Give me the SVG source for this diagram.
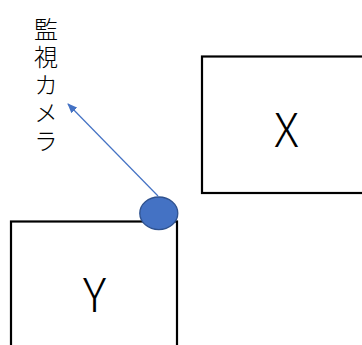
<svg xmlns="http://www.w3.org/2000/svg" width="362" height="345" viewBox="0 0 362 345">
<style>
.box{fill:#fff;stroke:#000;stroke-width:2.2}
.lbl{font-family:"Noto Sans CJK JP","Liberation Sans",sans-serif;font-weight:300;fill:#000}
</style>
<defs>
<marker id="ah" viewBox="0 0 10 8" refX="9" refY="4" markerWidth="10" markerHeight="8" orient="auto" markerUnits="userSpaceOnUse">
<path d="M0,0 L10,4 L0,8 Z" fill="#4472C4"/>
</marker>
</defs>
<rect width="362" height="345" fill="#fff"/>
<g id="nodeX">
<rect class="box" x="202" y="56.5" width="170" height="136.5"/>
<text class="lbl" x="286.5" y="146.5" font-size="46" text-anchor="middle">X</text>
</g>
<g id="nodeY">
<rect class="box" x="11" y="221.5" width="166" height="140"/>
<text class="lbl" x="94.5" y="311.5" font-size="46" text-anchor="middle">Y</text>
</g>
<g id="label">
<text class="lbl" x="46" y="16.5" font-size="24" writing-mode="tb" letter-spacing="4">監視カメラ</text>
</g>
<g id="connectors">
<line x1="158" y1="196" x2="68" y2="104" stroke="#4472C4" stroke-width="1.2" marker-end="url(#ah)"/>
</g>
<g id="camera">
<ellipse cx="158.8" cy="213.3" rx="19" ry="16.3" fill="#4472C4" stroke="#2F528F" stroke-width="1.3"/>
</g>
</svg>
